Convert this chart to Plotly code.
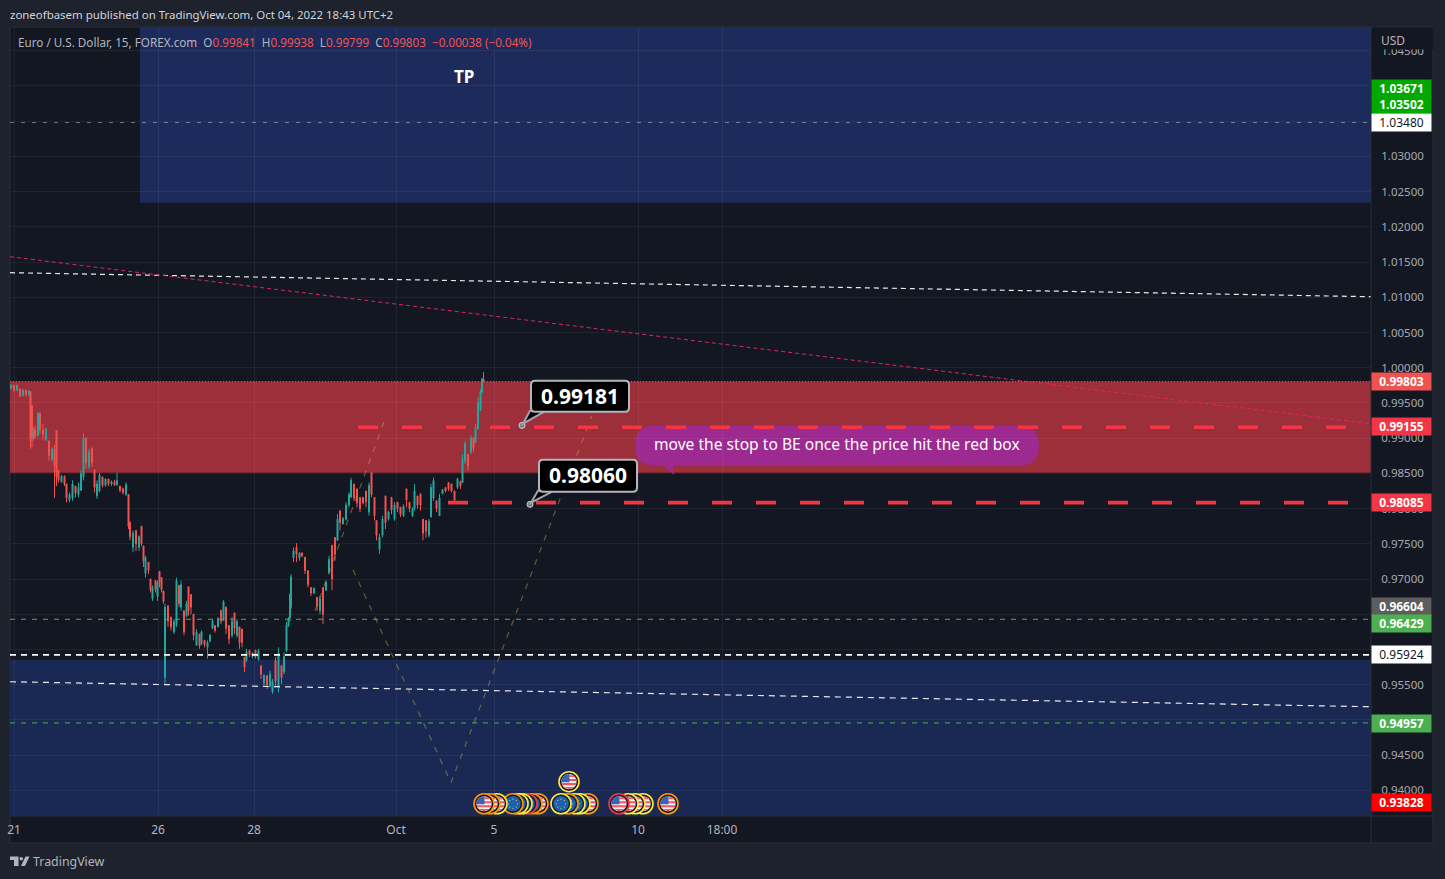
import math
import plotly.graph_objects as go

# ---------- candles (bar index since 21 Sep, O/H/L/C) ----------
candle_bar = [-6,0,6,12,18,24,30,33,36,39, 42,48,52,58,64,70,76,81,85,89,
 95,101,105,111,117,123,129,134,139,144, 150,156,161,166,171,177,183,189,195,201,
 206,212,218,224,229,232,238,244,250,255, 259,263,269,273,277,283,287,291,295,299,
 302,308,314,320,325,330,334,340,345,349, 354,359,365,371,375,381,387,392,397,402,
 408,414,419,424,430,436,441,446,451,456, 461,465,471,477,483,489,494,500,506,512,
 517,523,529,535,540,545,549,552,554,
 559,565,571,576,582,588,594,600,606,612, 618,624,630,636,642,647,652,658,664,670,
 674,680,686,692,698,704,710,715,721,725, 731,737,743,749,755,761,767,773,779,785,
 791,797,801,807,813,818,824,830,834,839, 845,851,857,863,869,875,881,887,893,897,
 902,908,914,919,923,928,933,936,939]

candle_open = [.9971,.9975,.9968,.9970,.9960,.9968,.9962,.9966,.9946,.9900,
 .9912,.9903,.9935,.9912,.9898,.9896,.9870,.9885,.9911,.9854,
 .9838,.9846,.9835,.9812,.9815,.9832,.9820,.9826,.9845,.9900,
 .9860,.9885,.9855,.9818,.9825,.9845,.9833,.9842,.9835,.9838,
 .9834,.9832,.9828,.9820,.9820,.9781,.9745,.9769,.9745,.9775,
 .9747,.9708,.9724,.9700,.9672,.9698,.9675,.9711,.9702,.9683,
 .9560,.9662,.9646,.9625,.9635,.9691,.9660,.9655,.9648,.9689,
 .9678,.9650,.9606,.9622,.9608,.9613,.9603,.9612,.9630,.9634,
 .9632,.9655,.9641,.9660,.9634,.9620,.9652,.9620,.9632,.9629,
 .9589,.9585,.9599,.9590,.9599,.9586,.9577,.9552,.9563,.9548,
 .9540,.9585,.9545,.9577,.9568,.9598,.9634,.9645,.9660,
 .9730,.9745,.9730,.9737,.9731,.9712,.9688,.9680,.9674,.9655,
 .9688,.9684,.9710,.9748,.9759,.9755,.9797,.9778,.9785,.9805,
 .9816,.9835,.9828,.9816,.9816,.9825,.9795,.9851,.9816,.9783,
 .9742,.9762,.9818,.9785,.9816,.9785,.9809,.9802,.9790,.9828,
 .9809,.9790,.9800,.9818,.9821,.9785,.9783,.9762,.9788,.9815,
 .9811,.9790,.9821,.9830,.9837,.9835,.9825,.9830,.9839,.9837,
 .9868,.9877,.9880,.9901,.9894,.9913,.9939,.9965,.99841]

candle_high = [.9977,.9975,.9976,.9970,.9970,.9968,.9968,.9967,.9946,.9915,
 .9918,.9937,.9937,.9920,.9915,.9896,.9887,.9890,.9911,.9854,
 .9848,.9847,.9835,.9823,.9840,.9832,.9837,.9854,.9907,.9901,
 .9885,.9887,.9855,.9840,.9851,.9845,.9843,.9842,.9840,.9841,
 .9851,.9832,.9830,.9837,.9820,.9781,.9769,.9769,.9762,.9775,
 .9747,.9733,.9724,.9700,.9691,.9698,.9698,.9711,.9702,.9683,
 .9665,.9662,.9646,.9643,.9702,.9691,.9698,.9655,.9669,.9689,
 .9678,.9650,.9629,.9622,.9627,.9613,.9613,.9622,.9643,.9634,
 .9646,.9657,.9670,.9661,.9634,.9646,.9652,.9643,.9632,.9629,
 .9589,.9601,.9599,.9596,.9599,.9601,.9577,.9565,.9563,.9570,
 .9558,.9589,.9603,.9577,.9596,.9639,.9646,.9680,.9707,
 .9745,.9751,.9738,.9738,.9731,.9712,.9688,.9688,.9674,.9676,
 .9688,.9698,.9733,.9748,.9759,.9792,.9797,.9788,.9809,.9823,
 .9844,.9835,.9828,.9816,.9816,.9825,.9837,.9851,.9816,.9783,
 .9764,.9790,.9818,.9797,.9816,.9809,.9809,.9802,.9806,.9828,
 .9809,.9802,.9835,.9818,.9821,.9785,.9783,.9785,.9835,.9844,
 .9811,.9821,.9828,.9830,.9837,.9835,.9825,.9844,.9839,.9877,
 .9896,.9877,.9904,.9901,.9920,.9958,.9970,.9985,.99938]

candle_low = [.9969,.9965,.9967,.9958,.9960,.9959,.9959,.9885,.9887,.9896,
 .9899,.9903,.9906,.9897,.9896,.9868,.9867,.9815,.9832,.9837,
 .9837,.9832,.9809,.9809,.9811,.9816,.9816,.9825,.9840,.9856,
 .9856,.9859,.9823,.9814,.9823,.9830,.9831,.9832,.9832,.9832,
 .9832,.9823,.9820,.9818,.9771,.9755,.9738,.9740,.9740,.9747,
 .9717,.9702,.9707,.9681,.9669,.9681,.9669,.9688,.9681,.9665,
 .9551,.9632,.9627,.9622,.9632,.9660,.9655,.9620,.9646,.9648,
 .9650,.9613,.9606,.9601,.9606,.9603,.9587,.9610,.9629,.9624,
 .9632,.9636,.9641,.9622,.9608,.9617,.9622,.9617,.9601,.9603,
 .9568,.9582,.9589,.9587,.9587,.9584,.9558,.9549,.9544,.9546,
 .9537,.9546,.9539,.9551,.9565,.9596,.9632,.9640,.9658,
 .9724,.9724,.9726,.9731,.9707,.9688,.9676,.9679,.9655,.9650,
 .9636,.9684,.9707,.9684,.9726,.9755,.9769,.9778,.9783,.9802,
 .9816,.9811,.9802,.9795,.9806,.9802,.9790,.9816,.9783,.9755,
 .9736,.9759,.9771,.9783,.9792,.9783,.9795,.9788,.9788,.9802,
 .9795,.9788,.9797,.9800,.9797,.9755,.9759,.9759,.9788,.9811,
 .9795,.9790,.9821,.9823,.9825,.9823,.9809,.9828,.9828,.9837,
 .9863,.9854,.9877,.9880,.9894,.9913,.9939,.9965,.99799]

candle_close = [.9975,.9968,.9975,.9960,.9968,.9962,.9967,.9895,.9900,.9912,
 .9903,.9935,.9912,.9905,.9913,.9875,.9885,.9860,.9845,.9840,
 .9846,.9835,.9815,.9820,.9835,.9822,.9830,.9850,.9900,.9865,
 .9880,.9865,.9830,.9835,.9848,.9833,.9842,.9835,.9838,.9834,
 .9840,.9826,.9823,.9834,.9775,.9760,.9765,.9750,.9760,.9750,
 .9725,.9730,.9712,.9685,.9688,.9685,.9695,.9695,.9685,.9668,
 .9660,.9640,.9632,.9640,.9698,.9665,.9692,.9625,.9665,.9655,
 .9660,.9620,.9625,.9605,.9625,.9607,.9610,.9620,.9641,.9627,
 .9644,.9640,.9668,.9630,.9615,.9640,.9630,.9640,.9610,.9610,
 .9575,.9597,.9592,.9595,.9590,.9598,.9565,.9563,.9550,.9565,
 .9555,.9555,.9595,.9560,.9590,.9635,.9644,.9678,.9703,
 .9740,.9735,.9737,.9733,.9712,.9692,.9680,.9687,.9662,.9672,
 .9650,.9695,.9728,.9700,.9735,.9785,.9780,.9786,.9805,.9820,
 .9840,.9815,.9808,.9800,.9808,.9810,.9833,.9820,.9790,.9762,
 .9760,.9785,.9780,.9795,.9798,.9805,.9800,.9792,.9803,.9812,
 .9800,.9800,.9825,.9805,.9805,.9765,.9768,.9782,.9830,.9840,
 .9800,.9815,.9827,.9825,.9828,.9825,.9812,.9842,.9832,.9870,
 .9892,.9860,.9900,.9885,.9915,.9950,.9965,.9984,.99803]

assert len(candle_bar) == len(candle_open) == len(candle_high) == len(candle_low) == len(candle_close)

# ---------- axes ----------
x_range = [-8, 2714]
y_range = [0.93636, 1.04837]
time_ticks = [0, 288, 480, 764, 960, 1248, 1416]
time_labels = ["21", "26", "28", "Oct", "5", "10", "18:00"]
price_dtick = 0.005

# ---------- zones ----------
tp_zone_x = [252, 2714]
tp_zone_y = [1.02342, 1.04837]
red_zone_y = [0.98509, 0.99803]
blue_zone_y = [0.93636, 0.95855]

# ---------- levels and lines ----------
red_dash_levels = [0.99155, 0.98085]
red_dash_start = [688, 868]
green_levels = [0.96429, 0.94957]
white_level = 0.95924
gray_level = 1.03480
last_close = 0.99803
pink_trend = [1.01576, 0.99205]
white_trend_upper = [1.01349, 1.01008]
white_trend_lower = [0.95542, 0.95187]
olive_a_bar = [602, 740]
olive_a_price = [0.96550, 0.99233]
olive_b_bar = [678, 874, 1156]
olive_b_price = [0.97132, 0.94108, 0.99319]

# ---------- price scale labels: text, screen row, fill, text colour ----------
scale_text = ["1.03671", "1.03502", "1.03480", "0.99803", "0.99155", "0.98085",
              "0.96604", "0.96429", "0.95924", "0.94957", "0.93828"]
scale_row = [88, 105, 122, 381.5, 426.5, 502.5, 606.5, 623.5, 654.5, 723.5, 802]
scale_fill = ["#00a800", "#00a800", "#ffffff", "#ef5350", "#f23645", "#f23645",
              "#5d5d5d", "#4caf50", "#ffffff", "#4caf50", "#ff0000"]
scale_ink = ["#ffffff", "#ffffff", "#131722", "#ffffff", "#ffffff", "#ffffff",
             "#ffffff", "#ffffff", "#131722", "#ffffff", "#ffffff"]

# ---------- calendar events (bar, row price, flag, ring), back to front ----------
event_bar = [1048,1036,1026,1016,1008,998, 966,952,940,
             1148,1132,1122,1108,1094, 1258,1242,1228,1210, 1308, 1110]
event_price = [0.9381]*19 + [0.94123]
event_flag = ["US","EU","EU","EU","EU","EU","US","US","US",
              "US","EU","EU","EU","EU","US","US","US","US","US","US"]
event_ring = ["#ff9800","#ff9800","#f23645","#ffeb3b","#ffeb3b","#ff9800","#ffeb3b","#ff9800","#ff9800",
              "#ff9800","#ffeb3b","#ffeb3b","#ff9800","#ffeb3b","#ffeb3b","#ffeb3b","#ffeb3b","#f23645","#ff9800","#ffeb3b"]

# ---------- callouts ----------
callout_text = ["0.99181", "0.98060"]
callout_bar = [1016, 1032]
callout_price = [0.99181, 0.98060]

FONT = "Noto Sans"
PAGE = "#1e222d"
PANE = "#131722"
GRID = "rgba(255,255,255,0.055)"
L, R, T, B = 10, 1371, 27, 816


def bar_of(px):
    return (px - 14) * 2


def price_of(py):
    return 1 + (367 - py) / 7044


def xp(px):
    return (px - L) / (R - L)


def yp(py):
    return 1 - (py - T) / (B - T)


def rounded(x0, y0, x1, y1, r):
    """Rounded box path in screen pixels converted to data coordinates."""
    P = lambda x, y: f"{bar_of(x):.2f},{price_of(y):.6f}"
    return (f"M{P(x0+r,y0)} L{P(x1-r,y0)} Q{P(x1,y0)} {P(x1,y0+r)} L{P(x1,y1-r)} Q{P(x1,y1)} {P(x1-r,y1)} "
            f"L{P(x0+r,y1)} Q{P(x0,y1)} {P(x0,y1-r)} L{P(x0,y0+r)} Q{P(x0,y0)} {P(x0+r,y0)} Z")


def poly(points):
    return "M" + " L".join(f"{bar_of(x):.2f},{price_of(y):.6f}" for x, y in points) + " Z"


fig = go.Figure()

# zones and bubble go below the traces
shapes = [
    dict(type="rect", xref="paper", yref="paper", x0=xp(10), x1=xp(1433), y0=yp(843), y1=yp(27),
         fillcolor=PANE, line=dict(color="#2a2e39", width=1), layer="below"),
    dict(type="rect", xref="x", yref="y", x0=tp_zone_x[0], x1=tp_zone_x[1], y0=tp_zone_y[0], y1=tp_zone_y[1],
         fillcolor="#1c2b5b", line_width=0, layer="below"),
    dict(type="rect", xref="x", yref="y", x0=x_range[0], x1=x_range[1], y0=red_zone_y[0], y1=red_zone_y[1],
         fillcolor="#9d2f3b", line_width=0, layer="below"),
    dict(type="rect", xref="x", yref="y", x0=x_range[0], x1=x_range[1], y0=blue_zone_y[0], y1=blue_zone_y[1],
         fillcolor="#1a2954", line_width=0, layer="below"),
    dict(type="path", xref="x", yref="y", layer="below", line_width=0, fillcolor="#9c2a90",
         path=rounded(635, 425, 1039, 465, 20)),
    dict(type="path", xref="x", yref="y", layer="below", line_width=0, fillcolor="#9c2a90",
         path=poly([(662, 464), (674, 474), (673, 464)])),
    # axis rules
    dict(type="line", xref="paper", yref="paper", x0=1, x1=1, y0=yp(843), y1=1,
         line=dict(color="#2a2e39", width=1)),
    dict(type="line", xref="paper", yref="paper", x0=0, x1=xp(1433), y0=0, y1=0,
         line=dict(color="#2a2e39", width=1)),
]


def line_trace(xs, ys, color, width, dash):
    fig.add_trace(go.Scatter(x=xs, y=ys, mode="lines", line=dict(color=color, width=width, dash=dash),
                             hoverinfo="skip", showlegend=False, cliponaxis=True))


# thin levels
line_trace(x_range, [gray_level, gray_level], "rgba(255,255,255,0.4)", 1, "4px,7px")
line_trace(x_range, white_trend_upper, "#e8e8e8", 1.2, "5px,4px")
line_trace(x_range, pink_trend, "#e0245e", 1, "4px,3px")
line_trace(x_range, white_trend_lower, "#e8e8e8", 1.2, "6px,5px")
for lv in green_levels:
    line_trace(x_range, [lv, lv], "#4caf50", 1, "5px,6px")
line_trace(olive_a_bar, olive_a_price, "rgba(205,170,70,0.45)", 1.2, "6px,7px")
line_trace(olive_b_bar, olive_b_price, "rgba(205,170,70,0.45)", 1.2, "6px,7px")
line_trace(x_range, [last_close, last_close], "#ef5350", 1, "1px,2px")

fig.add_trace(go.Candlestick(
    x=candle_bar, open=candle_open, high=candle_high, low=candle_low, close=candle_close,
    whiskerwidth=0, showlegend=False, hoverinfo="skip",
    increasing=dict(line=dict(color="#26a69a", width=1), fillcolor="#26a69a"),
    decreasing=dict(line=dict(color="#ef5350", width=1), fillcolor="#ef5350"),
))

line_trace(x_range, [white_level, white_level], "#ffffff", 1.6, "6px,5px")
for lv, start in zip(red_dash_levels, red_dash_start):
    line_trace([start, x_range[1]], [lv, lv], "#f23645", 3.6, "20px,24px")

# callouts
callout_boxes = [(531, 380, 629, 411), (539, 459, 637, 491)]
callout_tails = [[(546, 410), (530, 410), (523, 423)], [(554, 490), (538, 490), (531, 502)]]
for (x0, y0, x1, y1), tail in zip(callout_boxes, callout_tails):
    shapes.append(dict(type="path", xref="x", yref="y", path=poly(tail), fillcolor="#000000",
                       line=dict(color="#a0a3ad", width=2), layer="above"))
    shapes.append(dict(type="path", xref="x", yref="y", path=rounded(x0, y0, x1, y1, 4), fillcolor="#000000",
                       line=dict(color="#b2b5be", width=2), layer="above"))
fig.add_trace(go.Scatter(x=callout_bar, y=callout_price, mode="markers", hoverinfo="skip", showlegend=False,
                         marker=dict(size=6, color="#787b86", line=dict(color="#d1d4dc", width=1))))


# event icons
def ev_shape(bar, price, **kw):
    return dict(xref="x", yref="y", xsizemode="pixel", ysizemode="pixel", xanchor=bar, yanchor=price,
                layer="above", **kw)


def px_poly(pts):
    return "M" + " L".join(f"{x:.2f},{y:.2f}" for x, y in pts) + " Z"


def chord(yt, yb, r, left=None):
    hw = [math.sqrt(max(r * r - v * v, 0)) for v in (yt, yb)]
    a = left if left is not None else -hw[0]
    c = left if left is not None else -hw[1]
    return px_poly([(a, yt), (hw[0], yt), (hw[1], yb), (c, yb)])


for bar, price, flag, ring in zip(event_bar, event_price, event_flag, event_ring):
    shapes.append(ev_shape(bar, price, type="circle", x0=-10, x1=10, y0=-10, y1=10,
                           fillcolor=PANE, line=dict(color=ring, width=1.6)))
    if flag == "US":
        r = 7.6
        shapes.append(ev_shape(bar, price, type="circle", x0=-r, x1=r, y0=-r, y1=r,
                               fillcolor="#f2f2f2", line_width=0))
        shapes.append(ev_shape(bar, price, type="path", path=chord(2.6, 0.6, r), fillcolor="#f7525f", line_width=0))
        shapes.append(ev_shape(bar, price, type="path", path=chord(-1.4, -3.6, r), fillcolor="#f7525f", line_width=0))
        shapes.append(ev_shape(bar, price, type="path", path=chord(-5.2, -r, r), fillcolor="#f7525f", line_width=0))
        shapes.append(ev_shape(bar, price, type="path", path=chord(6.4, 4.6, r, left=0.5), fillcolor="#f7525f", line_width=0))
        arc = [(-r * math.cos(math.radians(a)), r * math.sin(math.radians(a))) for a in range(-4, 92, 12)]
        shapes.append(ev_shape(bar, price, type="path", path=px_poly([(0.5, -0.5)] + arc + [(0.5, r)]),
                               fillcolor="#3a62b5", line_width=0))
    else:
        r = 7.8
        shapes.append(ev_shape(bar, price, type="circle", x0=-r, x1=r, y0=-r, y1=r,
                               fillcolor="#1c62b0", line_width=0))
        for a in range(0, 360, 45):
            cx, cy = 4.6 * math.cos(math.radians(a)), 4.6 * math.sin(math.radians(a))
            shapes.append(ev_shape(bar, price, type="circle", x0=cx - .6, x1=cx + .6, y0=cy - .6, y1=cy + .6,
                                   fillcolor="#ffd54f", line_width=0))

# TradingView mark
shapes.append(dict(type="path", xref="paper", yref="paper", layer="above", fillcolor="#b2b5be", line_width=0,
                   path=" ".join(
                       "M" + " L".join(f"{xp(x):.5f},{yp(y):.5f}" for x, y in pts) + " Z" for pts in [
                           [(10, 856.5), (18.5, 856.5), (18.5, 866), (14, 866), (14, 860), (10, 860)],
                           [(21, 866), (25.5, 856.5), (29.5, 856.5), (25, 866)],
                       ])))
shapes.append(dict(type="circle", xref="paper", yref="paper", layer="above", fillcolor="#b2b5be", line_width=0,
                   x0=xp(19.5), x1=xp(23), y0=yp(860.5), y1=yp(857)))

ann = []


def note(px, py, text, size=12, color="#b2b5be", anchor="left", **kw):
    ann.append(dict(xref="paper", yref="paper", x=xp(px), y=yp(py), xanchor=anchor, yanchor="middle",
                    text=text, showarrow=False, font=dict(family=FONT, size=size, color=color), **kw))


note(7.5, 14, "zoneofbasem published on TradingView.com, Oct 04, 2022 18:43 UTC+2", size=11.45, color="#d1d4dc")
R_ = lambda s: f"<span style='color:#ef5350'>{s}</span>"
note(15.5, 42, "Euro / U.S. Dollar, 15, FOREX.com&nbsp;&nbsp;O" + R_("0.99841") + "&nbsp;&nbsp;H" + R_("0.99938")
     + "&nbsp;&nbsp;L" + R_("0.99799") + "&nbsp;&nbsp;C" + R_("0.99803") + "&nbsp;&nbsp;" + R_("−0.00038 (−0.04%)"),
     size=11.7)
note(30.5, 861, "TradingView", size=12.4, color="#b2b5be")
note(464, 76, "<b>TP</b>", size=17, color="#ffffff", anchor="center")
note(837, 444, "move the stop to BE once the price hit the red box", size=15.6, color="#ffffff", anchor="center")
# the scale header hides the top part of the tick label running under it
note(1372, 38.5, "&nbsp;", size=12, bgcolor=PANE, width=60, height=21, borderpad=0)
note(1379, 40.5, "USD", size=12)
for text, (x0, y0, x1, y1) in zip(callout_text, callout_boxes):
    note((x0 + x1) / 2, (y0 + y1) / 2, f"<b>{text}</b>", size=21, color="#ffffff", anchor="center")
for text, row, fill, ink in zip(scale_text, scale_row, scale_fill, scale_ink):
    bold = ink == "#ffffff"
    note(1371, row, f"<b>{text}</b>" if bold else text, size=12, color=ink, bgcolor=fill,
         width=59, height=17, borderpad=0, align="center")

fig.update_layout(
    width=1445, height=879, autosize=False,
    margin=dict(l=7, r=74, t=T, b=879 - B, pad=0),
    paper_bgcolor=PAGE, plot_bgcolor=PANE,
    showlegend=False, hovermode=False, boxgap=0, boxgroupgap=0,
    shapes=shapes, annotations=ann,
    font=dict(family=FONT, size=12, color="#b2b5be"),
    xaxis=dict(range=x_range, type="linear", tickmode="array", tickvals=time_ticks, ticktext=time_labels,
               showgrid=True, gridcolor=GRID, gridwidth=1, zeroline=False, showline=False,
               ticks="outside", ticklen=3, tickcolor="rgba(0,0,0,0)",
               tickfont=dict(family=FONT, size=12, color="#b2b5be"), rangeslider=dict(visible=False)),
    yaxis=dict(range=y_range, side="right", tick0=1.0, dtick=price_dtick, tickformat=".5f",
               showgrid=True, gridcolor=GRID, gridwidth=1, zeroline=False, showline=False,
               ticks="outside", ticklen=7, tickcolor="rgba(0,0,0,0)",
               tickfont=dict(family=FONT, size=11.5, color="#a6a9b3")),
)

fig.write_html("out.html", config=dict(displayModeBar=False),
               post_script=("document.body.style.margin='0';document.body.style.overflow='hidden';"
                            "var g=document.querySelector('.plotly-graph-div');"
                            "g.style.position='absolute';g.style.left='0';g.style.top='0';g.style.margin='0';"))
